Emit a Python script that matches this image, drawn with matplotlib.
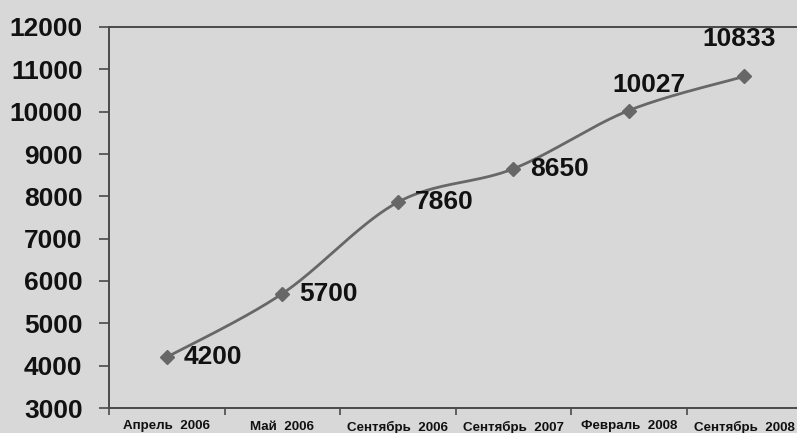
import numpy as np
import matplotlib
matplotlib.use('Agg')
import matplotlib.pyplot as plt

# данные графика
periods = ['Апрель  2006', 'Май  2006', 'Сентябрь  2006',
           'Сентябрь  2007', 'Февраль  2008', 'Сентябрь  2008']
values = [4200, 5700, 7860, 8650, 10027, 10833]
y_ticks = [3000, 4000, 5000, 6000, 7000, 8000, 9000, 10000, 11000, 12000]

# смещения подписей (в пикселях)
label_offsets = [(17, 0, 'left'), (17, 0, 'left'), (17, 0, 'left'),
                 (17, 0, 'left'), (-16, 26, 'left'), (-5, 37, 'center')]

bg = '#d8d8d8'
line_col = '#676767'
axis_col = '#4a4a4a'


def smooth(xs, ys, n=40):
    # сглаживание как в Excel: кривые Безье по схеме Catmull-Rom
    pts = np.column_stack([xs, ys]).astype(float)
    out = [pts[0]]
    for i in range(len(pts) - 1):
        p0 = pts[i - 1] if i > 0 else pts[i]
        p1 = pts[i]
        p2 = pts[i + 1]
        p3 = pts[i + 2] if i + 2 < len(pts) else pts[i + 1]
        c1 = p1 + (p2 - p0) / 6
        c2 = p2 - (p3 - p1) / 6
        t = np.linspace(0, 1, n)[1:, None]
        seg = ((1 - t) ** 3) * p1 + 3 * ((1 - t) ** 2) * t * c1 \
            + 3 * (1 - t) * t ** 2 * c2 + t ** 3 * p2
        out.extend(seg)
    out = np.array(out)
    return out[:, 0], out[:, 1]


fig = plt.figure(figsize=(7.97, 4.33), dpi=100, facecolor=bg)
W, H = 797, 433
ax = fig.add_axes([109 / W, 25 / H, (802 - 109) / W, (408 - 27) / H])
ax.set_facecolor(bg)

x = np.arange(len(values))
sx, sy = smooth(x, values)
ax.plot(sx, sy, color=line_col, lw=2.0, zorder=2)
ax.plot(x, values, ls='none', marker='D', ms=7.2, color=line_col,
        markeredgecolor=line_col, zorder=3)

for xi, v, (dx, dy, ha) in zip(x, values, label_offsets):
    ax.annotate(str(v), (xi, v), xytext=(dx * 0.72, dy * 0.72),
                textcoords='offset points', ha=ha, va='center',
                fontsize=19, fontweight='bold', family='Liberation Sans',
                color='#111111')

ax.set_xlim(-0.5, 5.5)
ax.set_ylim(3000, 12000)
ax.set_yticks(y_ticks)
ax.set_yticklabels([str(t) for t in y_ticks], fontsize=19,
                   fontweight='bold', family='Liberation Sans', color='#111111')

# деления между категориями, подписи по центру
ax.set_xticks(np.arange(-0.5, 5.6, 1.0))
ax.set_xticklabels([])
ax.set_xticks(x, minor=True)
ax.set_xticklabels(periods, minor=True, fontsize=9.6, fontweight='bold',
                   family='Liberation Sans', color='#111111')
ax.tick_params(axis='x', which='minor', length=0, pad=9)
ax.tick_params(axis='x', which='major', length=5, width=1.2, color=axis_col,
               direction='out')
ax.tick_params(axis='y', length=7, width=1.2, color=axis_col, pad=12,
               direction='out')

for side in ['left', 'bottom', 'top']:
    ax.spines[side].set_color(axis_col)
    ax.spines[side].set_linewidth(1.4)
ax.spines['right'].set_visible(False)

fig.savefig('out.png', dpi=100, facecolor=bg)
